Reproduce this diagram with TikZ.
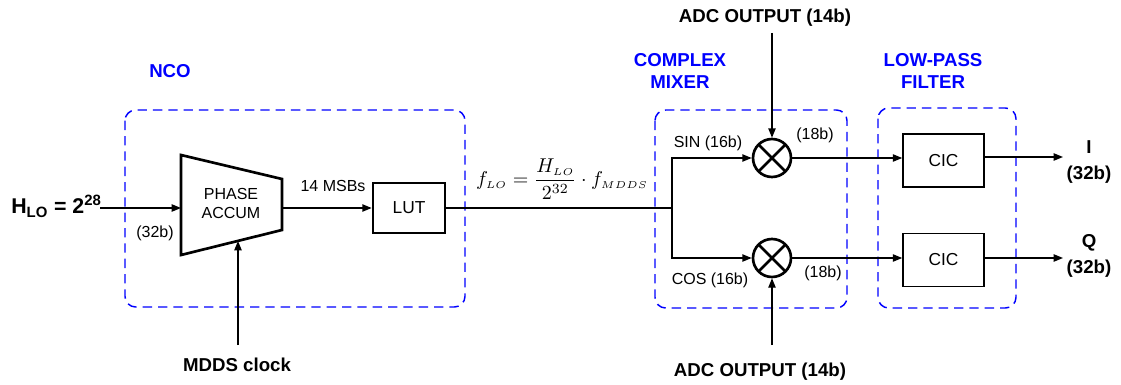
\documentclass[tikz,border=0pt]{standalone}
\usepackage{fontspec}
\setmainfont{Liberation Sans}
\usetikzlibrary{arrows.meta,shapes.geometric}
\begin{document}
\begin{tikzpicture}[x=0.75pt,y=-0.75pt,
  conn/.style={line width=1pt,-{Triangle[length=7pt,width=5.5pt]}},
  plain/.style={line width=1pt},
  grp/.style={draw=blue,dash pattern=on 7pt off 4.5pt,line width=1.1pt,rounded corners=8pt},
  grplabel/.style={text=blue,font=\bfseries\fontsize{14}{17}\selectfont,align=center},
  lbl/.style={font=\fontsize{12}{14.25}\selectfont,align=center,inner sep=0pt},
  blbl/.style={font=\bfseries\fontsize{14}{19.5}\selectfont,align=center,inner sep=0pt},
  thickbox/.style={draw,line width=2pt,font=\fontsize{13}{15}\selectfont,minimum width=54pt,minimum height=37.5pt,inner sep=0pt},
  cicbox/.style={draw,line width=1.2pt,font=\fontsize{13}{15}\selectfont,minimum width=60.75pt,minimum height=39.75pt,inner sep=0pt},
  mixer/.style={circle,draw,line width=2pt,minimum size=28.5pt,inner sep=0pt,
    path picture={\draw[line width=2pt] (path picture bounding box.north west) -- (path picture bounding box.south east)
      (path picture bounding box.north east) -- (path picture bounding box.south west);}}
]
\useasboundingbox (0,0) rectangle (1121,385);

% group boxes
\draw[grp] (125,110) rectangle (465,307);
\node[grplabel] (ncol) at (170,71) {NCO};
\draw[grp] (655,110) rectangle (847,308);
\node[grplabel] (mixl) at (680,71) {COMPLEX\\MIXER};
\draw[grp] (878,108) rectangle (1016,308);
\node[grplabel] (lpfl) at (933,71) {LOW-PASS\\FILTER};

% phase accumulator
\coordinate (ptl) at (181,155);
\coordinate (pbl) at (181,255);
\coordinate (ptr) at (282,179);
\coordinate (pbr) at (282,230);
\draw[line width=2pt,line join=miter] (ptl) -- (ptr) -- (pbr) -- (pbl) -- cycle;
\node[lbl] (pa) at (231,203) {PHASE\\ACCUM};
\coordinate (pain) at (181,208);
\coordinate (paout) at (282,208);
\coordinate (paclk) at (238,241);

\node[font=\bfseries\fontsize{16}{18}\selectfont,anchor=west,inner sep=0pt] (hlo) at (11,206) {H\textsubscript{LO} = 2\textsuperscript{28}};
\coordinate (hloe) at (100,208);
\draw[conn] (hloe) -- (pain);
\node[lbl] (b32) at (155,233) {(32b)};

\node[blbl] (mdds) at (237,365) {MDDS clock};
\coordinate (mddst) at (238,345);
\draw[conn] (mddst) -- (paclk);

% LUT
\node[thickbox] (lut) at (409,208) {LUT};
\draw[conn] (paout) -- (lut.west);
\node[lbl] (msb) at (333,186) {14 MSBs};

\coordinate (split) at (672,208);
\draw[plain] (lut.east) -- (split);
\node[inner sep=0pt] (form) at (562,179) {\scalebox{1.5}{$f_{\scriptscriptstyle LO}=\displaystyle\frac{H_{\scriptscriptstyle LO}}{2^{32}}\cdot f_{\scriptscriptstyle MDDS}$}};

% mixers
\node[mixer] (m1) at (772,158) {};
\node[mixer] (m2) at (772,258) {};
\coordinate (sinc) at (672,158);
\coordinate (cosc) at (672,258);
\draw[conn] (split) -- (sinc) -- (m1.west);
\draw[conn] (split) -- (cosc) -- (m2.west);
\node[lbl] (sinl) at (708,143) {SIN (16b)};
\node[lbl] (cosl) at (710,280) {COS (16b)};
\node[lbl] (o18a) at (815,135) {(18b)};
\node[lbl] (o18b) at (823,273) {(18b)};

\node[blbl] (adc1) at (765,18) {ADC OUTPUT (14b)};
\node[blbl] (adc2) at (760,372) {ADC OUTPUT (14b)};
\coordinate (adc1b) at (772,33);
\coordinate (adc2t) at (772,345);
\draw[conn] (adc1b) -- (m1.north);
\draw[conn] (adc2t) -- (m2.south);

% CIC filters
\node[cicbox] (cic1) at (943.5,160.5) {CIC};
\node[cicbox] (cic2) at (943.5,260) {CIC};
\draw[conn] (m1.east) -- (m1.east -| cic1.west);
\draw[conn] (m2.east) -- (m2.east -| cic2.west);
\coordinate (o1) at (1063,157);
\coordinate (o2) at (1063,258);
\draw[conn] (cic1.east |- o1) -- (o1);
\draw[conn] (cic2.east |- o2) -- (o2);
\node[blbl] (il) at (1089,162) {I\\(32b)};
\node[blbl] (ql) at (1089,256) {Q\\(32b)};
\end{tikzpicture}
\end{document}
